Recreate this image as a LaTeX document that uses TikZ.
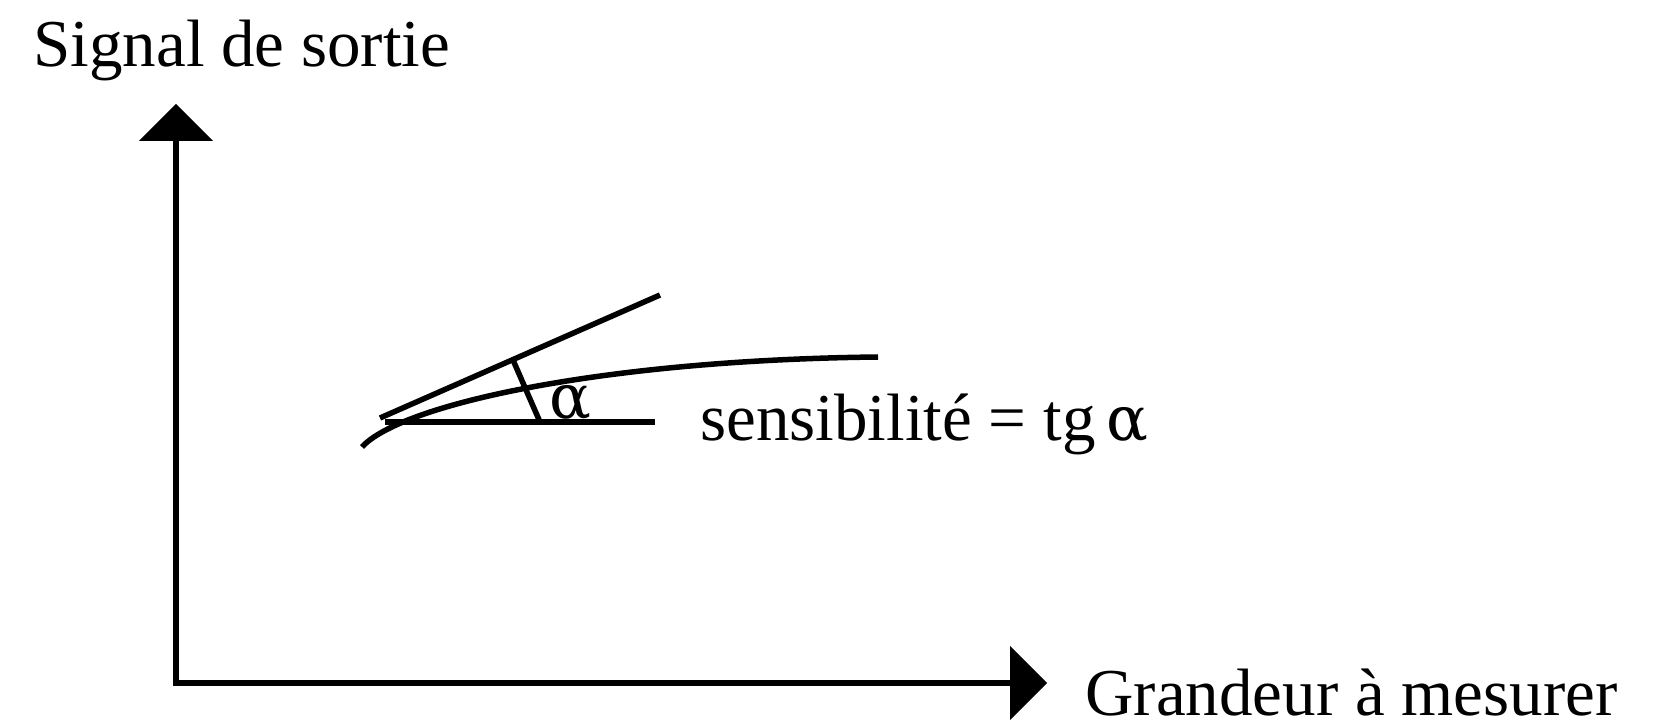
\documentclass[tikz,border=0pt]{standalone}
\usepackage{fontspec}
\setmainfont{Liberation Serif}
\newfontfamily\greekfont{DejaVu Serif}
\usetikzlibrary{arrows.meta}
\begin{document}
\begin{tikzpicture}[x=0.5pt,y=-0.5pt,
  axes/.style={line width=3.25pt, line join=miter,
    {Triangle[length=18.5pt,width=37pt,line width=0pt]}-{Triangle[length=18.5pt,width=37pt,line width=0pt]}},
  thinline/.style={line width=2.75pt},
  txt/.style={inner sep=0pt, anchor=base west, font=\fontsize{33.5}{40}\selectfont}]
\useasboundingbox (0,0) rectangle (1667,727);

% axes
\coordinate (O) at (176,683);
\coordinate (Ytop) at (176,104);
\coordinate (Xend) at (1047,683);
\draw[axes] (Ytop) -- (O) -- (Xend);

% axis labels
\node[txt] (ylab) at (33,67) {Signal de sortie};
\node[txt] (xlab) at (1085,715) {Grandeur à mesurer};

% characteristic curve
\coordinate (c0) at (362,447);
\coordinate (c1) at (878,357);
\draw[thinline] (c0) .. controls (400,405) and (600,360) .. (c1);

% tangent and horizontal reference
\coordinate (t0) at (380,418);
\coordinate (t1) at (660,295);
\draw[thinline] (t0) -- (t1);
\coordinate (h0) at (385,422);
\coordinate (h1) at (655,422);
\draw[thinline] (h0) -- (h1);

% angle mark
\coordinate (a0) at (513,360);
\coordinate (a1) at (540,422);
\draw[thinline] (a0) -- (a1);
\node[inner sep=0pt, anchor=base, font=\fontsize{31}{36}\selectfont\greekfont] (alpha) at (570,419) {α};

% sensitivity label
\node[txt] (sens) at (700,441) {sensibilité = tg\,{\fontsize{31}{36}\selectfont\greekfont α}};
\end{tikzpicture}
\end{document}
